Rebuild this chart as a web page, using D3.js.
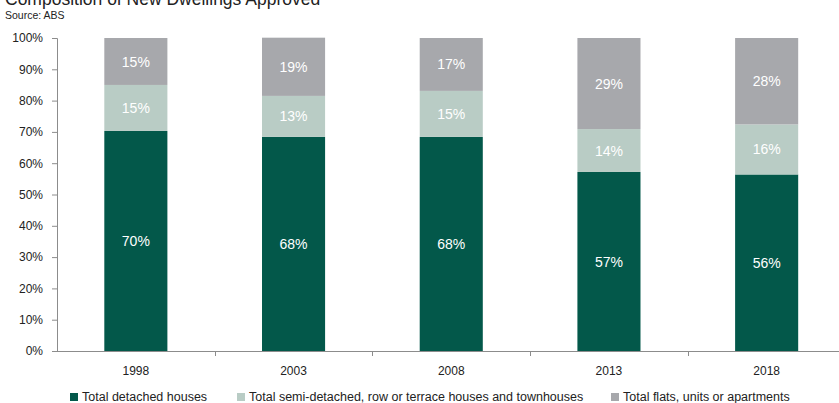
<!DOCTYPE html>
<html><head><meta charset="utf-8">
<script src="https://cdn.jsdelivr.net/npm/d3@7"></script>
<style>body{margin:0;background:#fff}svg{display:block;font-family:"Liberation Sans",Arial,sans-serif}</style>
</head><body><svg id="c" width="839" height="403"></svg>
<script>
const years = ["1998","2003","2008","2013","2018"];
const seriesNames = ["Total detached houses","Total semi-detached, row or terrace houses and townhouses","Total flats, units or apartments"];
const detached = [70.3, 68.4, 68.4, 57.2, 56.4];
const semi = [14.7, 13.1, 14.7, 13.7, 16.0];
const flats = [15.0, 18.6, 16.9, 29.1, 27.6];
const yTicks = [0,10,20,30,40,50,60,70,80,90,100];
const colors = ["#03584a","#b9ccc5","#a7a8ac"];

const svg = d3.select("#c");
const x = d3.scaleBand().domain(years).range([57, 845.5]).paddingInner(0.6).paddingOuter(0.3);
const y = d3.scaleLinear().domain([0,100]).range([351, 38]);

svg.append("text").attr("x",5).attr("y",5).attr("font-size",17.5).attr("fill","#222").text("Composition of New Dwellings Approved");
svg.append("text").attr("x",5).attr("y",19).attr("font-size",10.5).attr("fill","#222").text("Source: ABS");

const rows = years.map((yr,i)=>({year:yr, s0:detached[i], s1:semi[i], s2:flats[i]}));
const stack = d3.stack().keys(["s0","s1","s2"])(rows);

stack.forEach((layer,k)=>{
  const g = svg.append("g");
  g.selectAll("rect").data(layer).join("rect")
    .attr("x",d=>x(d.data.year)).attr("width",x.bandwidth())
    .attr("y",d=>y(d[1])).attr("height",d=>y(d[0])-y(d[1]))
    .attr("fill",colors[k]);
  g.selectAll("text").data(layer).join("text")
    .attr("x",d=>x(d.data.year)+x.bandwidth()/2)
    .attr("y",d=>(y(d[0])+y(d[1]))/2)
    .attr("dy","0.36em").attr("text-anchor","middle")
    .attr("font-size",14).attr("fill","#fff")
    .text(d=>Math.round(d[1]-d[0])+"%");
});

// y axis
const yAxis = svg.append("g").attr("transform","translate(57,0)")
  .call(d3.axisLeft(y).tickValues(yTicks).tickFormat(d=>d+"%").tickSize(5).tickPadding(9));
yAxis.select(".domain").attr("stroke","#8c8c8c");
yAxis.selectAll(".tick line").attr("stroke","#8c8c8c");
yAxis.selectAll("text").attr("font-size",12).attr("fill","#222").attr("font-family","Liberation Sans, Arial, sans-serif");

// x axis
const xg = svg.append("g");
xg.append("line").attr("x1",57).attr("x2",839).attr("y1",351.5).attr("y2",351.5).attr("stroke","#8c8c8c");
const step = x.step();
xg.selectAll("line.tk").data(years.slice(1)).join("line").attr("class","tk")
  .attr("x1",d=>Math.round(x(d)-step*0.3)+0.5).attr("x2",d=>Math.round(x(d)-step*0.3)+0.5)
  .attr("y1",351).attr("y2",356).attr("stroke","#8c8c8c");
xg.selectAll("text").data(years).join("text")
  .attr("x",d=>x(d)+x.bandwidth()/2).attr("y",375)
  .attr("text-anchor","middle").attr("font-size",12).attr("fill","#222").text(d=>d);

// legend
const legX = [70, 237, 611];
const lg = svg.append("g");
seriesNames.forEach((n,i)=>{
  lg.append("rect").attr("x",legX[i]).attr("y",393).attr("width",8).attr("height",8).attr("fill",colors[i]);
  lg.append("text").attr("x",legX[i]+12).attr("y",401).attr("font-size",12.5).attr("fill","#222").text(n);
});
</script></body></html>
